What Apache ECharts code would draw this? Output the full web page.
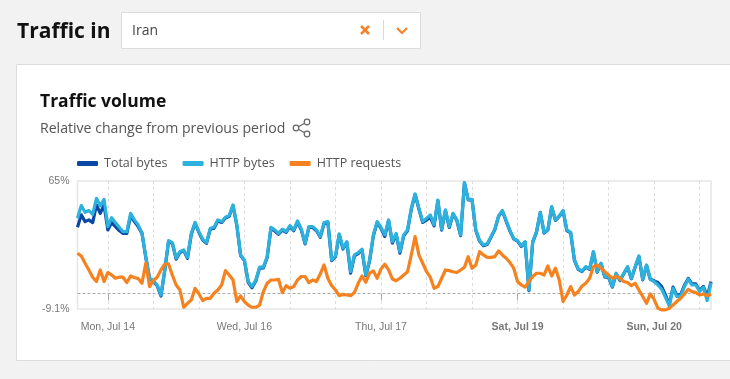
<!DOCTYPE html>
<html><head><meta charset="utf-8">
<style>html,body{margin:0;padding:0;background:#f2f2f2}#c{width:730px;height:379px}</style>
<script src="https://cdn.jsdelivr.net/npm/echarts@6/dist/echarts.min.js"></script>
</head><body><div id="c"></div>
<script>
const seriesNames = ['Total bytes','HTTP bytes','HTTP requests'];
const seriesColors = ['#0b47a5','#2cb2dc','#f6821f'];
const tickLabels = {8:'Mon, Jul 14',44:'Wed, Jul 16',80:'Thu, Jul 17',116:'Sat, Jul 19',152:'Sun, Jul 20'};
const boldTicks = [116,152];
const totalBytes = [38.2,45.4,41.5,42.5,40.9,51.1,46.3,51.1,36.7,40.9,38.6,36.3,34.7,34.7,44.8,41.5,38.6,34.7,20.8,8.5,7.0,4.4,-1.6,13.2,30.0,28.9,19.8,23.6,24.7,20.3,34.2,40.6,35.2,30.8,28.9,37.1,37.7,42.0,41.0,43.6,44.6,50.8,39.2,21.8,18.9,6.4,3.2,7.1,14.6,14.7,20.7,37.6,36.1,34.2,36.6,35.2,38.7,36.2,41.4,36.6,28.6,38.1,38.1,36.2,32.4,40.4,41.1,18.9,21.2,34.0,25.6,29.5,11.6,21.7,23.0,25.1,10.2,18.8,33.3,41.1,37.6,32.9,42.1,29.1,34.1,23.2,33.3,36.2,48.7,57.2,48.8,41.0,42.4,44.0,39.0,53.6,36.6,47.9,38.1,45.9,42.1,33.4,63.9,54.1,54.1,36.3,30.1,27.6,28.2,32.4,36.8,44.5,47.6,41.8,36.0,31.5,30.2,27.1,29.6,1.5,29.6,35.4,46.9,34.8,36.8,49.8,42.2,44.5,47.6,36.3,35.0,19.0,13.8,12.6,15.1,13.8,23.8,12.2,17.1,9.4,9.0,3.6,11.3,7.4,11.3,15.1,8.4,15.1,21.3,7.8,16.1,8.1,7.2,6.2,3.9,-1.0,-6.6,3.6,-1.2,-0.8,4.6,8.6,5.4,5.4,1.6,4.0,-2.0,6.8];
const httpBytes = [43.4,50.8,46.9,47.9,45.7,55.0,50.6,54.4,38.6,43.8,40.9,38.2,35.7,35.7,46.3,42.5,39.6,34.7,21.2,8.7,7.3,4.8,-1.0,13.5,30.5,29.3,20.3,24.1,25.1,20.8,34.7,41.1,35.7,31.3,29.3,37.6,38.2,42.5,41.5,44.0,45.0,51.1,39.6,22.2,19.3,6.8,3.9,7.7,15.1,15.1,21.2,38.2,36.7,34.7,37.1,35.7,39.2,36.7,41.9,37.1,29.0,38.6,38.6,36.7,32.8,40.9,41.5,19.3,21.6,34.4,26.1,29.9,12.5,22.2,23.5,25.5,10.6,19.3,33.8,41.5,38.2,33.8,42.5,29.9,34.7,24.1,33.8,36.7,49.2,57.5,49.2,41.5,43.4,45.4,39.6,54.0,37.1,48.3,38.6,46.3,42.5,33.8,64.1,54.4,54.4,36.7,30.5,28.0,28.6,32.8,37.1,44.8,47.9,42.1,36.3,31.8,30.5,27.4,29.9,1.9,29.9,35.7,46.7,35.1,37.1,50.2,42.5,44.8,47.9,36.7,35.3,19.3,14.1,12.9,15.4,14.1,24.1,12.5,17.4,9.7,9.3,3.9,11.6,7.7,11.6,15.4,8.7,15.4,21.6,8.1,16.4,8.1,6.8,4.8,2.3,-2.3,-7.3,2.9,-1.9,-1.5,3.9,8.1,4.8,4.8,1.0,3.5,-4.2,6.2];
const httpRequests = [23.2,21.6,17.4,13.5,9.3,6.8,13.5,6.8,12.0,10.6,8.7,9.3,9.3,6.2,10.0,9.1,8.5,5.8,17.4,3.9,7.3,9.3,13.5,16.8,17.0,10.6,4.8,1.9,-8.1,-5.8,-3.9,2.9,-0.4,-4.2,-2.9,-2.9,0,1.9,4.8,13.1,10.6,7.7,-4.8,-1.5,-4.8,-6.8,-8.1,-8.1,-6.8,1.0,5.8,7.7,7.7,8.1,0.4,4.4,2.9,3.9,7.7,9.7,9.7,6.2,7.7,6.8,11.2,16.4,8.7,4.4,1.9,-1.4,-0.6,-1.0,-1.4,0.4,5.8,10.0,6.4,11.6,12.9,8.7,14.1,16.8,13.5,8.3,7.3,8.7,10.6,12.5,22.2,32.8,22.2,17.4,12.5,9.3,2.9,3.9,8.7,13.5,13.1,12.5,12.0,13.5,15.1,21.2,14.5,16.4,24.1,22.2,20.8,20.8,21.2,24.5,22.2,20.3,17.8,14.5,6.8,4.8,3.5,6.8,9.7,11.6,11.6,10.6,15.8,10.0,14.5,7.7,-4.8,-1.0,3.9,-1.0,1.0,4.2,5.8,8.7,15.4,16.4,14.5,12.5,10.6,8.7,10.0,8.7,6.8,6.2,4.4,5.8,1.9,-1.9,-5.8,-0.4,-3.5,-8.7,-9.6,-9.6,-8.7,-6.8,-4.8,-2.9,-0.4,2.3,1.0,0.4,-1.0,-0.4,-1.5,-0.4];
const categories = httpBytes.map((_, i) => String(i));
const yMin = -9.1, yMax = 65;

const chart = echarts.init(document.getElementById('c'));
const orange = '#f5822a';
const uiFont = '"Open Sans","Noto Sans",sans-serif';
const mk = (name, data, i) => ({
  name, type:'line', data, symbol:'none', clip:false,
  lineStyle:{width:3.2,color:seriesColors[i],join:'round'},
  itemStyle:{color:seriesColors[i]}, z:2+i,
  markLine: i===0 ? {silent:true,symbol:'none',label:{show:false},
    lineStyle:{type:[3,2],color:'#aaa',width:1},data:[{yAxis:0}],z:1} : undefined
});
chart.setOption({
  animation:false,
  backgroundColor:'#f2f2f2',
  textStyle:{fontFamily:uiFont},
  legend:{left:77,top:157,padding:0,icon:'roundRect',itemWidth:21,itemHeight:5,itemGap:15,
    data:seriesNames,
    textStyle:{color:'#555',fontSize:12.5,fontFamily:uiFont,padding:[0,0,0,1]}},
  grid:{left:77.5,right:19,top:181,bottom:70,show:true,borderColor:'#e6e6e6',borderWidth:1.5,backgroundColor:'#fff'},
  xAxis:{type:'category',boundaryGap:false,data:categories,
    axisLine:{show:false},
    axisTick:{show:true,length:7,lineStyle:{color:'#aaa',width:1},interval:(i)=>tickLabels[i]!==undefined},
    splitLine:{show:true,lineStyle:{type:[3,3],color:'#dcdcdc',width:1},interval:(i)=>i%12===8},
    axisLabel:{interval:(i)=>tickLabels[i]!==undefined,margin:13,
      fontFamily:'"Liberation Sans",Arial,sans-serif',fontSize:10.5,color:'#777',
      formatter:(v,i)=>{const idx=+v;const t=tickLabels[idx]||'';return boldTicks.includes(idx)?'{b|'+t+'}':t;},
      rich:{b:{fontWeight:'bold',fontSize:10.5,color:'#777',fontFamily:'"Liberation Sans",Arial,sans-serif'}}}},
  yAxis:{type:'value',min:yMin,max:yMax,interval:yMax-yMin,
    axisLine:{show:false},axisTick:{show:false},splitLine:{show:false},
    axisLabel:{fontFamily:'"Liberation Sans",Arial,sans-serif',fontSize:10.5,color:'#777',margin:8,
      formatter:(v)=>v+'%'}},
  series:[mk(seriesNames[0],totalBytes,0),mk(seriesNames[1],httpBytes,1),mk(seriesNames[2],httpRequests,2)],
  graphic:[
    {type:'rect',z:-10,silent:true,shape:{x:16.5,y:64.5,width:730,height:296},style:{fill:'#fff',stroke:'#dcdcdc',lineWidth:1}},
    {type:'text',x:17,y:22,style:{text:'Traffic in',font:'bold 21px '+uiFont,fill:'#111'}},
    {type:'rect',shape:{x:121.5,y:12.5,width:299,height:36},style:{fill:'#fff',stroke:'#dcdcdc',lineWidth:1}},
    {type:'text',x:132,y:24,style:{text:'Iran',font:'14px '+uiFont,fill:'#444'}},
    {type:'polyline',shape:{points:[[361,26],[369,34]]},style:{stroke:orange,lineWidth:2.5,fill:null}},
    {type:'polyline',shape:{points:[[369,26],[361,34]]},style:{stroke:orange,lineWidth:2.5,fill:null}},
    {type:'line',shape:{x1:383.5,y1:20,x2:383.5,y2:40},style:{stroke:'#d8d8d8',lineWidth:1}},
    {type:'polyline',shape:{points:[[397,28],[402,33],[407,28]]},style:{stroke:orange,lineWidth:2.2,fill:null}},
    {type:'text',x:40,y:93,style:{text:'Traffic volume',font:'bold 17.5px '+uiFont,fill:'#111'}},
    {type:'text',x:40,y:122,style:{text:'Relative change from previous period',font:'14.1px '+uiFont,fill:'#555'}},
    {type:'polyline',shape:{points:[[307,122],[296,128],[307,134]]},style:{stroke:'#666',lineWidth:1.2,fill:null}},
    {type:'circle',shape:{cx:296,cy:128,r:2.8},style:{fill:'#fff',stroke:'#666',lineWidth:1.2}},
    {type:'circle',shape:{cx:307,cy:122,r:2.8},style:{fill:'#fff',stroke:'#666',lineWidth:1.2}},
    {type:'circle',shape:{cx:307,cy:134,r:2.8},style:{fill:'#fff',stroke:'#666',lineWidth:1.2}}
  ]
});
</script></body></html>
